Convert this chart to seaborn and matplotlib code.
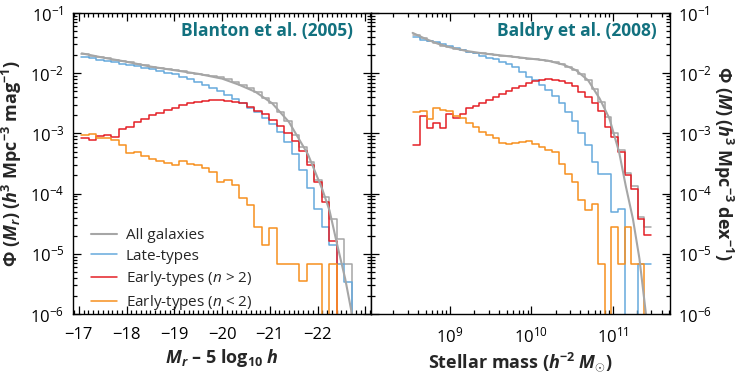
import numpy as np
import matplotlib
matplotlib.use('Agg')
import matplotlib.pyplot as plt
import seaborn as sns
from matplotlib.ticker import MultipleLocator, LogLocator, NullFormatter, FuncFormatter

# ---------------- data (log10 of Phi, nan = empty bin) ----------------
# Blanton et al. (2005): r-band luminosity functions, 0.1575 mag bins from -17.05
mag_edges = np.linspace(-17.05, -22.879, 38)          # 37 bins, the last one empty
lf_all = [-1.68, -1.71, -1.73, -1.75, -1.78, -1.80, -1.82, -1.85, -1.87, -1.89,
          -1.91, -1.93, -1.95, -1.97, -1.99, -2.01, -2.03, -2.05, -2.06, -2.10,
          -2.15, -2.20, -2.25, -2.32, -2.41, -2.50, -2.64, -2.80, -3.02, -3.22,
          -3.48, -3.78, -4.05, -4.42, -4.75, -5.17, np.nan]
lf_late = [-1.73, -1.75, -1.78, -1.80, -1.82, -1.84, -1.86, -1.88, -1.91, -1.93,
           -1.96, -1.99, -2.02, -2.06, -2.10, -2.14, -2.19, -2.24, -2.30, -2.36,
           -2.43, -2.50, -2.57, -2.65, -2.74, -2.85, -2.98, -3.15, -3.35, -3.60,
           -3.90, -4.25, -4.55, -4.85, -5.17, -5.47, np.nan]
lf_early_hi = [-3.08, -3.11, -3.04, -3.03, -3.06, -2.92, -2.90, -2.81, -2.76, -2.69,
               -2.66, -2.61, -2.58, -2.53, -2.50, -2.47, -2.46, -2.44, -2.45, -2.46,
               -2.48, -2.50, -2.56, -2.62, -2.68, -2.78, -2.88, -3.00, -3.12, -3.30,
               -3.52, -3.80, -4.14, -4.78, np.nan, np.nan, np.nan]
lf_early_lo = [-3.03, -3.01, -3.07, -3.08, -3.11, -3.20, -3.33, -3.31, -3.38, -3.42,
               -3.46, -3.49, -3.52, -3.45, -3.50, -3.52, -3.57, -3.64, -3.80, -3.78,
               -3.86, -4.08, -4.19, -4.55, -4.86, -4.57, -5.17, -5.17, -5.17, -5.45,
               -5.17, -5.17, np.nan, -5.17, np.nan, np.nan, np.nan]
lf_fit_mag = [-17.06, -17.5, -18.0, -18.5, -19.0, -19.5, -20.0, -20.35, -20.7, -21.05,
              -21.4, -21.6, -21.8, -21.95, -22.1, -22.25, -22.4, -22.58, -22.72]
lf_fit = [-1.67, -1.74, -1.81, -1.89, -1.95, -2.01, -2.09, -2.19, -2.31, -2.50,
          -2.81, -3.08, -3.35, -3.64, -3.93, -4.28, -4.81, -5.42, -6.0]

# Baldry et al. (2008): stellar mass functions, 0.0812 dex bins from 10^8.55
mass_edges = 10 ** np.linspace(8.55, 11.473, 37)
mf_all = [-1.37, -1.41, -1.46, -1.50, -1.54, -1.57, -1.60, -1.62, -1.64, -1.66,
          -1.67, -1.68, -1.69, -1.71, -1.72, -1.73, -1.74, -1.76, -1.77, -1.78,
          -1.79, -1.82, -1.85, -1.89, -1.94, -2.02, -2.12, -2.27, -2.47, -2.72,
          -3.00, -3.28, -3.65, -3.88, -4.39, -4.56]
mf_late = [-1.40, -1.44, -1.47, -1.48, -1.52, -1.55, -1.58, -1.61, -1.64, -1.67,
           -1.71, -1.74, -1.77, -1.81, -1.85, -1.90, -1.98, -2.06, -2.12, -2.20,
           -2.28, -2.38, -2.50, -2.64, -2.80, -3.00, -3.20, -3.47, -3.67, -3.67,
           -4.31, -4.25, np.nan, np.nan, -5.17, -5.17]
mf_early_hi = [-3.19, -2.71, -2.91, -2.82, -2.91, -2.68, -2.74, -2.67, -2.58, -2.54,
               -2.49, -2.44, -2.39, -2.34, -2.29, -2.25, -2.21, -2.17, -2.13, -2.11,
               -2.10, -2.11, -2.13, -2.16, -2.22, -2.32, -2.40, -2.50, -2.62, -2.90,
               -3.06, -3.31, -3.69, -3.92, -4.42, -4.69]
mf_early_lo = [-2.64, -2.63, -2.76, -2.58, -2.61, -2.63, -2.71, -2.75, -2.82, -2.89,
               -2.97, -3.03, -3.07, -3.16, -3.18, -3.16, -3.14, -3.13, -3.18, -3.22,
               -3.28, -3.31, -3.50, -3.67, -3.81, -4.11, -4.28, -4.17, -5.17, np.nan,
               -4.56, -5.17, -4.56, -5.17, -5.17, np.nan]
mf_fit_mass = [8.54, 8.7, 8.85, 9.0, 9.2, 9.4, 9.6, 9.8, 10.0, 10.2,
               10.4, 10.55, 10.7, 10.84, 10.96, 11.08, 11.16, 11.25, 11.33, 11.41]
mf_fit = [-1.33, -1.43, -1.51, -1.57, -1.63, -1.67, -1.70, -1.73, -1.76, -1.79,
          -1.86, -1.95, -2.12, -2.42, -2.75, -3.31, -3.86, -4.42, -5.08, -6.0]

labels = ['All galaxies', 'Late-types', r'Early-types ($n$ > 2)', r'Early-types ($n$ < 2)']
colors = ['#a6a6a6', '#66a9dc', '#e41f26', '#f7901e']
teal = '#12717f'

# ---------------- style ----------------
sns.set_theme(style='white')
plt.rcParams['font.family'] = ['Open Sans', 'DejaVu Sans']
plt.rcParams['mathtext.fontset'] = 'custom'
plt.rcParams['mathtext.rm'] = 'Open Sans'
plt.rcParams['mathtext.it'] = 'Open Sans:italic'
plt.rcParams['mathtext.bf'] = 'Open Sans:bold'
plt.rcParams['mathtext.bfit'] = 'Open Sans:italic:bold'
plt.rcParams['axes.unicode_minus'] = True


def step(ax, edges, logvals, **kw):
    h = 10.0 ** np.nan_to_num(np.asarray(logvals, float), nan=-12.0)
    sns.lineplot(x=edges, y=np.append(h, h[-1]), drawstyle='steps-post',
                 estimator=None, sort=False, ax=ax, lw=1.1, **kw)


fig = plt.figure(figsize=(7.4, 3.74), dpi=100)
ax1 = fig.add_axes([0.0982, 0.1604, 0.4032, 0.8048])
ax2 = fig.add_axes([0.5020, 0.1604, 0.4034, 0.8048])

# left panel
step(ax1, mag_edges, lf_all, color=colors[0])
step(ax1, mag_edges, lf_late, color=colors[1], label=labels[1])
step(ax1, mag_edges, lf_early_hi, color=colors[2], label=labels[2])
step(ax1, mag_edges, lf_early_lo, color=colors[3], label=labels[3])
sns.lineplot(x=lf_fit_mag, y=10.0 ** np.array(lf_fit), color=colors[0], lw=1.5,
             sort=False, estimator=None, ax=ax1, label=labels[0])

# right panel
step(ax2, mass_edges, mf_all, color=colors[0])
step(ax2, mass_edges, mf_late, color=colors[1])
step(ax2, mass_edges, mf_early_hi, color=colors[2])
step(ax2, mass_edges, mf_early_lo, color=colors[3])
sns.lineplot(x=10.0 ** np.array(mf_fit_mass), y=10.0 ** np.array(mf_fit), color=colors[0],
             lw=1.5, sort=False, estimator=None, ax=ax2)

for ax in (ax1, ax2):
    ax.set_yscale('log')
    ax.set_ylim(1e-6, 1e-1)
    ax.yaxis.set_major_locator(LogLocator(base=10, numticks=10))
    ax.yaxis.set_minor_locator(LogLocator(base=10, subs=np.arange(2, 10), numticks=20))
    ax.yaxis.set_minor_formatter(NullFormatter())
    ax.tick_params(which='both', direction='in', top=True, right=True, left=True,
                   bottom=True, width=0.9, colors='black', labelsize=12)
    ax.tick_params(axis='x', pad=9)
    ax.tick_params(axis='y', pad=6)
    ax.tick_params(which='major', length=6)
    ax.tick_params(which='minor', length=3)
    for s in ax.spines.values():
        s.set_linewidth(1.0)
        s.set_color('black')

ax1.set_xlim(-16.87, -23.12)
ax1.xaxis.set_major_locator(MultipleLocator(1))
ax1.xaxis.set_minor_locator(MultipleLocator(0.1))
ax1.xaxis.set_major_formatter(FuncFormatter(lambda v, p: '' if v < -22.5 else f'{v:.0f}'.replace('-', '\u2212')))
ax1.set_xlabel(r'$\mathbfit{M}_{\mathbfit{r}}$ – 5 log$_{\mathbf{10}}$ $\mathbfit{h}$',
               fontsize=13, fontweight='bold', labelpad=3)
ax1.set_ylabel(r'Φ ($\mathbfit{M}_{\mathbfit{r}}$) ($\mathbfit{h}^{\mathbf{3}}$ Mpc$^{\mathbf{-3}}$ mag$^{\mathbf{-1}}$)',
               fontsize=13, fontweight='bold', labelpad=4)

ax2.set_xscale('log')
ax2.set_xlim(10 ** 8.034, 10 ** 11.706)
ax2.xaxis.set_major_locator(LogLocator(base=10, numticks=10))
ax2.xaxis.set_minor_locator(LogLocator(base=10, subs=np.arange(2, 10), numticks=20))
ax2.xaxis.set_minor_formatter(NullFormatter())
ax2.tick_params(axis='y', which='both', labelleft=False, labelright=True)
ax2.yaxis.set_label_position('right')
ax2.set_xlabel(r'Stellar mass ($\mathbfit{h}^{\mathbf{-2}}$ $\mathbfit{M}_{\odot}$)',
               fontsize=13, fontweight='bold', labelpad=3)
ax2.set_ylabel(r'Φ ($\mathbfit{M}$) ($\mathbfit{h}^{\mathbf{3}}$ Mpc$^{\mathbf{-3}}$ dex$^{\mathbf{-1}}$)',
               fontsize=13, fontweight='bold', rotation=270, labelpad=16)

ax1.text(0.94, 0.94, 'Blanton et al. (2005)', transform=ax1.transAxes, ha='right',
         va='center', color=teal, fontsize=12.5, fontweight='bold')
ax2.text(0.955, 0.94, 'Baldry et al. (2008)', transform=ax2.transAxes, ha='right',
         va='center', color=teal, fontsize=12.5, fontweight='bold')

handles, labs = ax1.get_legend_handles_labels()
order = [labs.index(l) for l in labels]
ax1.legend([handles[i] for i in order], labels, loc='lower left', frameon=False,
           fontsize=11, handlelength=1.7, handletextpad=0.6, labelspacing=0.35,
           borderaxespad=0.4, bbox_to_anchor=(0.02, -0.035))

fig.savefig('out.png', dpi=100)
